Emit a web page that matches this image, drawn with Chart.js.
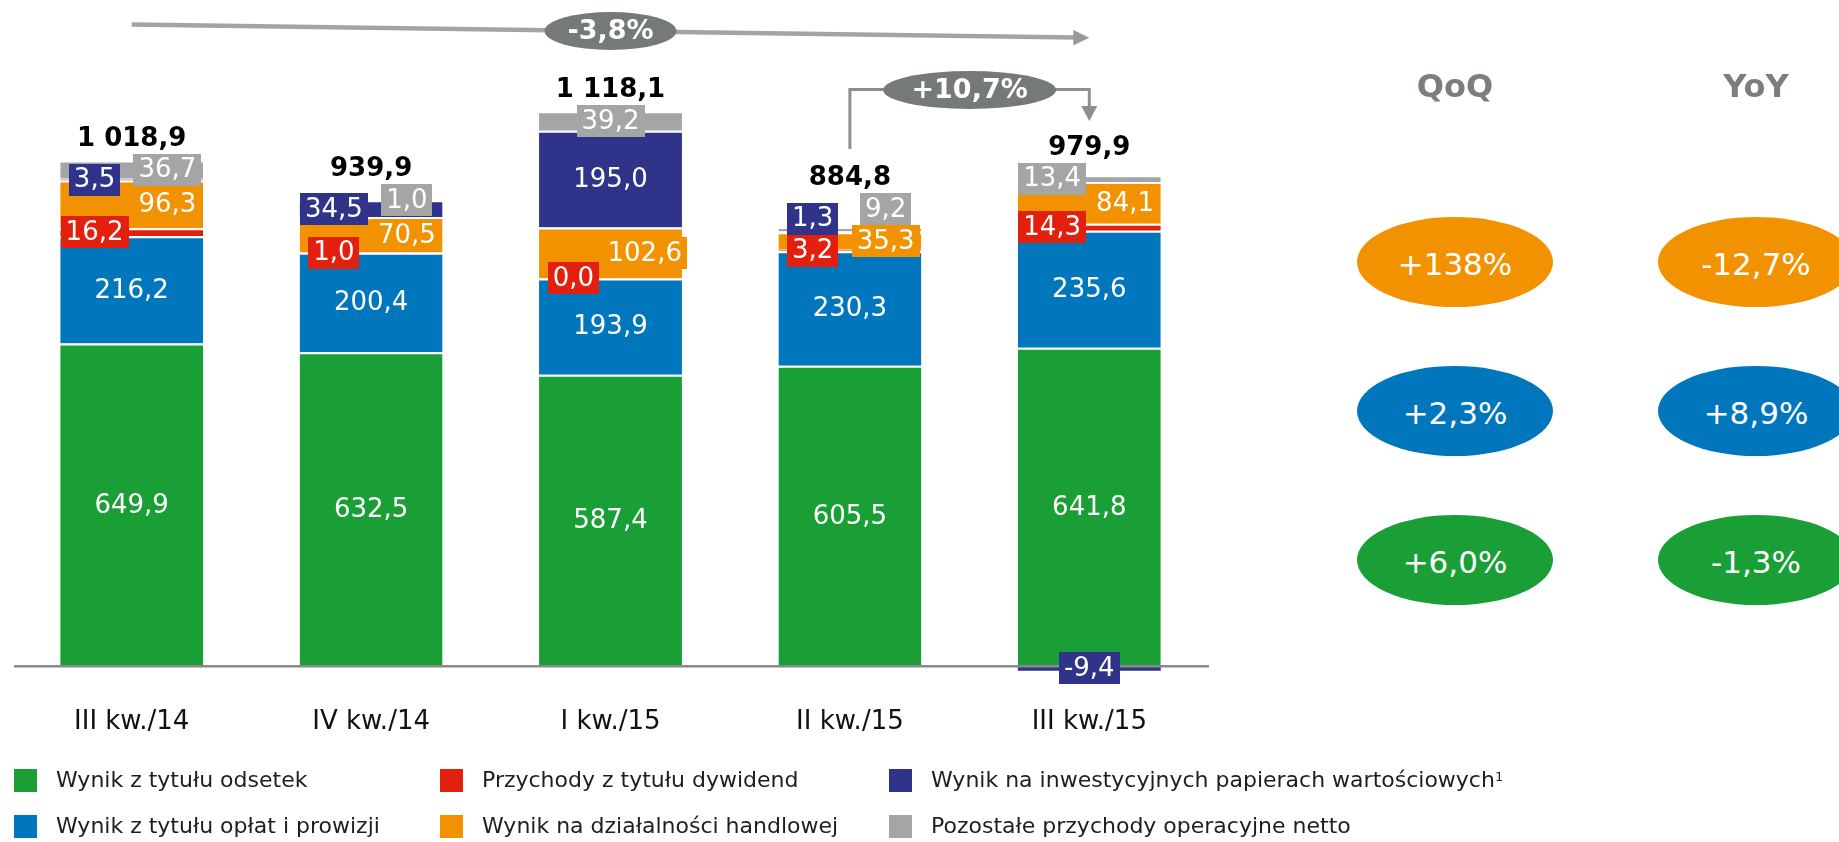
<!DOCTYPE html>
<html><head><meta charset="utf-8">
<script src="https://cdn.jsdelivr.net/npm/chart.js@4.4.1/dist/chart.umd.min.js"></script>
<style>
html,body{margin:0;padding:0;background:#fff;width:1839px;height:842px;overflow:hidden;font-family:"DejaVu Sans",Verdana,sans-serif;}
#wrap{position:relative;width:1839px;height:842px;overflow:hidden;}
#c{position:absolute;left:0;top:0;}
.leg{position:absolute;font-size:22px;color:#1e1e1e;line-height:24px;white-space:nowrap;height:23px}
.leg i{position:absolute;left:0;top:0;width:23px;height:23px}
.leg span{position:absolute;left:42px;top:-1px}
.leg sup{font-size:13px;vertical-align:top;position:relative;top:-3px}
.hdr{position:absolute;font-weight:bold;font-size:32px;color:#7b7e7f;transform:translate(-50%,-50%);white-space:nowrap}
.ell{position:absolute;width:196px;height:90px;border-radius:50%;color:#fff;font-size:31px;display:flex;align-items:center;justify-content:center;transform:translate(-50%,-50%);white-space:nowrap}
.ell span{position:relative;top:2px}
</style></head>
<body>
<div id="wrap">
<canvas id="c" width="1839" height="842"></canvas>
<div id="legend"></div>
<div id="panel"></div>
</div>
<script>
// ---- data ----
const categories = ['III kw./14', 'IV kw./14', 'I kw./15', 'II kw./15', 'III kw./15'];
const wynikOdsetki   = [649.9, 632.5, 587.4, 605.5, 641.8];
const wynikOplaty    = [216.2, 200.4, 193.9, 230.3, 235.6];
const dywidendy      = [16.2, 1.0, 0.0, 3.2, 14.3];
const handlowa       = [96.3, 70.5, 102.6, 35.3, 84.1];
const papiery        = [3.5, 34.5, 195.0, 1.3, -9.4];
const pozostale      = [36.7, 1.0, 39.2, 9.2, 13.4];
const totals         = [1018.9, 939.9, 1118.1, 884.8, 979.9];
const seriesNames = ['Wynik z tytułu odsetek', 'Wynik z tytułu opłat i prowizji', 'Przychody z tytułu dywidend',
  'Wynik na działalności handlowej', 'Wynik na inwestycyjnych papierach wartościowych', 'Pozostałe przychody operacyjne netto'];
const qoqLabels = ['+138%', '+2,3%', '+6,0%'];
const yoyLabels = ['-12,7%', '+8,9%', '-1,3%'];
const changeLong = '-3,8%';
const changeLast = '+10,7%';

// ---- styles ----
const colors = ['#1a9f36', '#0076bd', '#e3200d', '#f39200', '#2f3389', '#a4a5a4'];
const seriesData = [wynikOdsetki, wynikOplaty, dywidendy, handlowa, papiery, pozostale];
const labelAlign = [
  ['c','c','c','c','c'],
  ['c','c','c','c','c'],
  ['l','l','l','l','l'],
  ['r','r','r','r','r'],
  ['l','l','c','l','c'],
  ['r','r','c','r','l']
];
const FONT = '"DejaVu Sans", Verdana, sans-serif';

function fmt(v){
  const s = Math.abs(v).toFixed(1).split('.');
  const int = s[0].replace(/\B(?=(\d{3})+(?!\d))/g, ' ');
  return (v < 0 ? '-' : '') + int + ',' + s[1];
}

const labelPlugin = {
  id: 'labels',
  afterDatasetsDraw(chart){
    const ctx = chart.ctx, ca = chart.chartArea, ys = chart.scales.y, xs = chart.scales.x;
    // zero line
    const y0 = ys.getPixelForValue(0);
    ctx.save();
    ctx.strokeStyle = '#8a8a8a'; ctx.lineWidth = 2.5;
    ctx.beginPath(); ctx.moveTo(ca.left + 2, y0); ctx.lineTo(ca.right, y0); ctx.stroke();
    ctx.restore();

    ctx.save();
    ctx.font = '26px ' + FONT;
    ctx.textAlign = 'center'; ctx.textBaseline = 'middle';
    const bh = 32;
    for (let i = 0; i < categories.length; i++){
      const boxes = [];
      for (let d = 0; d < seriesData.length; d++){
        const el = chart.getDatasetMeta(d).data[i];
        const p = el.getProps(['x','y','base','width'], true);
        const v = seriesData[d][i];
        const text = fmt(v);
        const tw = ctx.measureText(text).width;
        const bw = tw + 10;
        let cx = p.x;
        const a = labelAlign[d][i];
        if (a === 'l') cx = p.x - p.width * 0.26;
        if (a === 'r') {
          cx = p.x + p.width * 0.25;
          const maxR = p.x + p.width / 2 + 5;
          if (cx + bw / 2 > maxR) cx = maxR - bw / 2;
        }
        boxes.push({cx, cy: (p.y + p.base) / 2, bw, text, color: colors[d], a});
      }
      ['l','r','c'].forEach(a => {
        const g = boxes.filter(b => b.a === a).sort((m, n) => n.cy - m.cy);
        for (let k = 1; k < g.length; k++){
          const prev = g[k-1];
          if (g[k].cy + bh/2 > prev.cy - bh/2) g[k].cy = prev.cy - bh;
        }
      });
      let top = Infinity;
      boxes.forEach(b => {
        ctx.fillStyle = b.color;
        ctx.fillRect(Math.round(b.cx - b.bw/2), Math.round(b.cy - bh/2), Math.round(b.bw), bh);
        ctx.fillStyle = '#ffffff';
        ctx.fillText(b.text, b.cx, b.cy + 1);
        top = Math.min(top, b.cy - bh/2);
      });
      ctx.save();
      ctx.font = 'bold 26px ' + FONT;
      ctx.fillStyle = '#000';
      ctx.fillText(fmt(totals[i]), xs.getPixelForValue(i), top - 14.5);
      ctx.restore();
    }
    ctx.restore();
  },
  afterDraw(chart){
    const ctx = chart.ctx, xs = chart.scales.x;
    const x1 = xs.getPixelForValue(0), x5 = xs.getPixelForValue(4), x4 = xs.getPixelForValue(3);
    ctx.save();
    // long arrow
    ctx.strokeStyle = '#a3a3a3'; ctx.lineWidth = 4.5;
    ctx.beginPath(); ctx.moveTo(x1, 24.5); ctx.lineTo(x5 - 14, 37.5); ctx.stroke();
    ctx.fillStyle = '#9a9a9a';
    ctx.beginPath(); ctx.moveTo(x5, 37.7); ctx.lineTo(x5 - 16, 30); ctx.lineTo(x5 - 16, 45.5); ctx.closePath(); ctx.fill();
    // ellipse -3,8%
    const ex = (x1 + x5) / 2;
    ctx.fillStyle = '#76797a';
    ctx.beginPath(); ctx.ellipse(ex, 31, 66, 19, 0, 0, Math.PI * 2); ctx.fill();
    ctx.fillStyle = '#fff'; ctx.font = 'bold 27px ' + FONT; ctx.textAlign = 'center'; ctx.textBaseline = 'middle';
    ctx.fillText(changeLong, ex, 32);
    // bracket connector
    const ex2 = (x4 + x5) / 2;
    ctx.strokeStyle = '#8e8e8e'; ctx.lineWidth = 3;
    ctx.beginPath(); ctx.moveTo(x4, 149); ctx.lineTo(x4, 89.5); ctx.lineTo(ex2 - 80, 89.5); ctx.stroke();
    ctx.beginPath(); ctx.moveTo(ex2 + 80, 89.5); ctx.lineTo(x5, 89.5); ctx.lineTo(x5, 108); ctx.stroke();
    ctx.fillStyle = '#8e8e8e';
    ctx.beginPath(); ctx.moveTo(x5, 121); ctx.lineTo(x5 - 8, 106); ctx.lineTo(x5 + 8, 106); ctx.closePath(); ctx.fill();
    ctx.fillStyle = '#76797a';
    ctx.beginPath(); ctx.ellipse(ex2, 90, 86.5, 19, 0, 0, Math.PI * 2); ctx.fill();
    ctx.fillStyle = '#fff'; ctx.font = 'bold 27px ' + FONT;
    ctx.fillText(changeLast, ex2, 91);
    ctx.restore();
  }
};

const datasets = seriesData.map((arr, d) => ({
  label: seriesNames[d],
  data: arr,
  backgroundColor: colors[d],
  borderColor: '#ffffff',
  borderWidth: {top: 2, left: 0, right: 0, bottom: 0},
  borderSkipped: 'start',
  categoryPercentage: 1,
  barPercentage: 0.597
}));

new Chart(document.getElementById('c'), {
  type: 'bar',
  data: {labels: categories, datasets},
  options: {
    responsive: false, animation: false, devicePixelRatio: 1,
    layout: {padding: {left: 12, right: 630, top: 21, bottom: 96}},
    plugins: {legend: {display: false}, tooltip: {enabled: false}},
    scales: {
      x: {stacked: true, grid: {display: false, drawTicks: false}, border: {display: false},
          ticks: {color: '#111', font: {family: FONT, size: 26}, padding: 21, maxRotation: 0, autoSkip: false},
          afterFit(s){ s.height = 60; }},
      y: {stacked: true, display: false, min: -40, max: 1300}
    }
  },
  plugins: [labelPlugin]
});

// legend (column-wise order)
const legPos = [[14,769],[14,815],[440,769],[440,815],[889,769],[889,815]];
const leg = document.getElementById('legend');
seriesNames.forEach((n, d) => {
  const div = document.createElement('div');
  div.className = 'leg';
  div.style.left = legPos[d][0] + 'px'; div.style.top = legPos[d][1] + 'px';
  div.innerHTML = '<i style="background:' + colors[d] + '"></i><span>' + n + (d === 4 ? '<sup>1</sup>' : '') + '</span>';
  leg.appendChild(div);
});

// right panel
const panel = document.getElementById('panel');
const colX = [1455, 1756], rowY = [262, 411, 560], rowColors = [colors[3], colors[1], colors[0]];
['QoQ','YoY'].forEach((h, k) => {
  const el = document.createElement('div'); el.className = 'hdr'; el.textContent = h;
  el.style.left = colX[k] + 'px'; el.style.top = '86px'; panel.appendChild(el);
});
[qoqLabels, yoyLabels].forEach((arr, k) => arr.forEach((t, r) => {
  const el = document.createElement('div'); el.className = 'ell';
  const sp = document.createElement('span'); sp.textContent = t; el.appendChild(sp);
  el.style.left = colX[k] + 'px'; el.style.top = rowY[r] + 'px'; el.style.background = rowColors[r];
  panel.appendChild(el);
}));
</script>
</body></html>
